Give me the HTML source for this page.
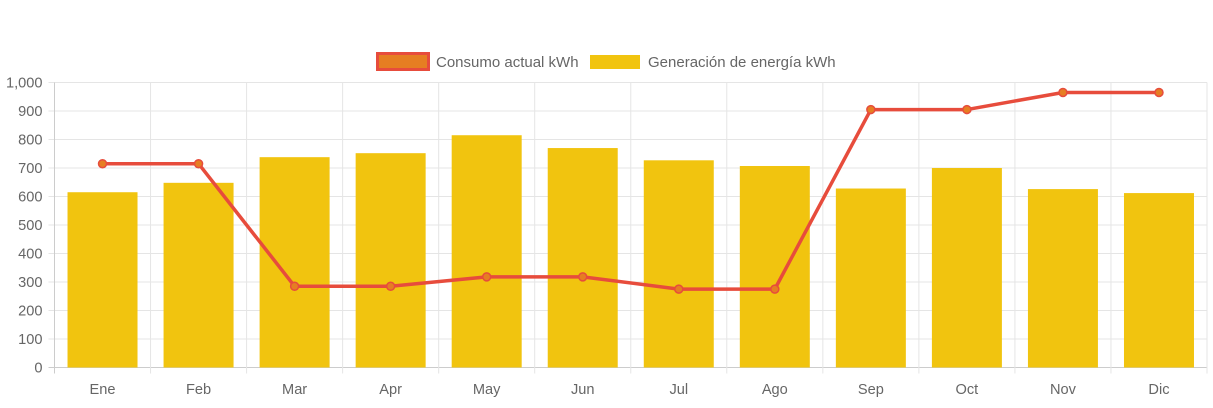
<!DOCTYPE html>
<html><head><meta charset="utf-8"><style>
body{margin:0;background:#fff;font-family:"Liberation Sans",sans-serif;}
svg text{font-family:"Liberation Sans",sans-serif;fill:#666;font-size:14.6px;}
</style></head><body>
<svg id="c" width="1213" height="403">
<g id="legend">
<g>
<rect x="377.5" y="53.5" width="51" height="16" fill="#e67e22" stroke="#e74c3c" stroke-width="3"/>
<text x="436" y="67" style="font-size:15px">Consumo actual kWh</text></g>
<g>
<rect x="590" y="55" width="50" height="14" fill="#f1c40f"/>
<text x="648" y="67" style="font-size:15px">Generación de energía kWh</text></g>
</g>
</svg>
<script>
const categories=["Ene","Feb","Mar","Apr","May","Jun","Jul","Ago","Sep","Oct","Nov","Dic"];
const generacion=[615,648,738,752,815,770,727,707,628,700,626,612];
const consumo=[715,715,285,285,318,318,275,275,905,905,965,965];
const yTicks=[0,100,200,300,400,500,600,700,800,900,1000];
const yTickLabels=["0","100","200","300","400","500","600","700","800","900","1,000"];
const svg=document.getElementById('c');const NS="http://www.w3.org/2000/svg";
const L=54.5,R=1207,T=82.5,B=367.5,yMax=1000;
const bw=(R-L)/categories.length;
const y=v=>B-(v/yMax)*(B-T);
const x=i=>L+bw*(i+0.5);
function mk(t,a,p){const e=document.createElementNS(NS,t);for(const k in a)e.setAttribute(k,a[k]);(p||svg).appendChild(e);return e;}
const grid=mk('g',{});


yTicks.forEach((v,i)=>{
 mk('line',{x1:L-6,x2:R,y1:y(v),y2:y(v),stroke:i==0?'#ccc':'#e5e5e5'},grid);
 const t=mk('text',{x:L-12,y:y(v)+5,'text-anchor':'end'});
 t.textContent=yTickLabels[i];
 
 
});
for(let i=0;i<=categories.length;i++){
 mk('line',{x1:L+bw*i,x2:L+bw*i,y1:T,y2:B+6,stroke:i==0?'#ccc':'#e5e5e5'},grid);
}
categories.forEach((c,i)=>{
 const t=mk('text',{x:x(i),y:394,'text-anchor':'middle'});
 t.textContent=c;
 
 
});
generacion.forEach((v,i)=>{
 const r=mk('rect',{x:x(i)-35,y:y(v),width:70,height:B-y(v),fill:'#f1c40f'});
 
 
});
const p=mk('polyline',{points:consumo.map((v,i)=>x(i)+','+y(v)).join(' '),fill:'none',stroke:'#e74c3c','stroke-width':3.5,'stroke-linejoin':'round'});


consumo.forEach((v,i)=>{
 const c=mk('circle',{cx:x(i),cy:y(v),r:4,fill:'#e67e22',stroke:'#e74c3c','stroke-width':1.5});
 
 
});
</script>
</body></html>
